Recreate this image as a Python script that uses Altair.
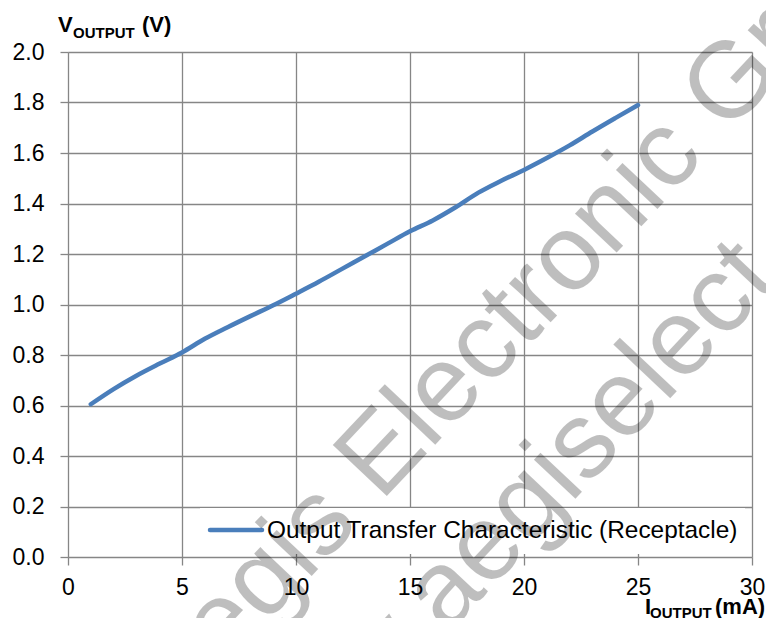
import altair as alt
import pandas as pd

# ---- data ----
i_output = [1, 2, 3, 4, 5, 6, 7, 8, 9, 10, 11, 12, 13, 14, 15, 16, 17, 18, 19, 20, 21, 22, 23, 24, 25]
v_output = [0.605, 0.665, 0.718, 0.765, 0.81, 0.864, 0.91, 0.954, 0.997, 1.043, 1.09, 1.14, 1.19, 1.24,
            1.29, 1.333, 1.385, 1.443, 1.49, 1.533, 1.58, 1.63, 1.685, 1.738, 1.79]
series_name = "Output Transfer Characteristic (Receptacle)"
series_color = "#4a7ebb"
x_ticks = [0, 5, 10, 15, 20, 25, 30]
y_ticks = [0.0, 0.2, 0.4, 0.6, 0.8, 1.0, 1.2, 1.4, 1.6, 1.8, 2.0]
watermark_lines = ["Aegis Electronic Group", "www.aegiselect.com"]

df = pd.DataFrame({"I": i_output, "V": v_output, "series": [series_name] * len(i_output)})

W, H = 684, 505
GRID = "#868686"
FONT = "Liberation Sans"

line = alt.Chart(df).mark_line(strokeWidth=4.5, strokeCap="round", interpolate="monotone").encode(
    x=alt.X("I:Q", scale=alt.Scale(domain=[0, 30], nice=False),
            axis=alt.Axis(values=x_ticks, title=None, grid=True, gridColor=GRID, gridWidth=1.3,
                          domain=False, ticks=True, tickColor=GRID, tickWidth=1.3, tickSize=8,
                          labelFont=FONT, labelFontSize=23, labelColor="black", labelPadding=11,
                          labelFlush=False, labelOverlap=False, format="d")),
    y=alt.Y("V:Q", scale=alt.Scale(domain=[0, 2], nice=False),
            axis=alt.Axis(values=y_ticks, title=None, grid=True, gridColor=GRID, gridWidth=1.3,
                          domain=False, ticks=True, tickColor=GRID, tickWidth=1.3, tickSize=8,
                          labelFont=FONT, labelFontSize=23, labelColor="black", labelPadding=16,
                          labelFlush=False, labelOverlap=False, format=".1f")),
    color=alt.Color("series:N", scale=alt.Scale(domain=[series_name], range=[series_color]),
                    legend=None),
)

# legend (box, sample line, label)
leg_df = pd.DataFrame({"t": [series_name]})
leg_box = alt.Chart(leg_df).mark_rect(color="white").encode(
    x=alt.value(132), x2=alt.value(677), y=alt.value(456), y2=alt.value(502))
leg_line = alt.Chart(leg_df).mark_rule(color=series_color, strokeWidth=4.5, strokeCap="round").encode(
    x=alt.value(142), x2=alt.value(194), y=alt.value(478))
leg_text = alt.Chart(leg_df).mark_text(font=FONT, fontSize=24.4, align="left", baseline="middle",
                                       color="black").encode(
    text="t:N", x=alt.value(199), y=alt.value(479))

def txt(s, x, y, size, bold=True, align="left"):
    return alt.Chart(pd.DataFrame({"t": [s]})).mark_text(
        font=FONT, fontSize=size, fontWeight="bold" if bold else "normal",
        align=align, baseline="alphabetic", color="black"
    ).encode(text="t:N", x=alt.value(x), y=alt.value(y))

titles = [
    txt("V", -10, -20, 22),
    txt("OUTPUT", 5, -14, 15),
    txt("(V)", 74, -20, 22),
    txt("I", 577, 562, 22),
    txt("OUTPUT", 582, 566, 15),
    txt("(mA)", 647, 562, 22),
]

wm = [
    alt.Chart(pd.DataFrame({"t": [watermark_lines[0]]})).mark_text(
        font=FONT, fontSize=108, angle=313.3, align="left", baseline="alphabetic",
        color="black", opacity=0.25
    ).encode(text="t:N", x=alt.value(107), y=alt.value(669)),
    alt.Chart(pd.DataFrame({"t": [watermark_lines[1]]})).mark_text(
        font=FONT, fontSize=108, angle=313.3, align="left", baseline="alphabetic",
        color="black", opacity=0.25
    ).encode(text="t:N", x=alt.value(202), y=alt.value(771)),
]

chart = alt.layer(line, leg_box, leg_line, leg_text, *titles, *wm).properties(
    width=W, height=H,
    autosize=alt.AutoSizeParams(type="none"),
    padding={"left": 60, "top": 44, "right": 14, "bottom": 61},
).configure_view(strokeWidth=0).configure(background="white")

chart.save("out.html", embed_options={"renderer": "svg", "actions": False})
